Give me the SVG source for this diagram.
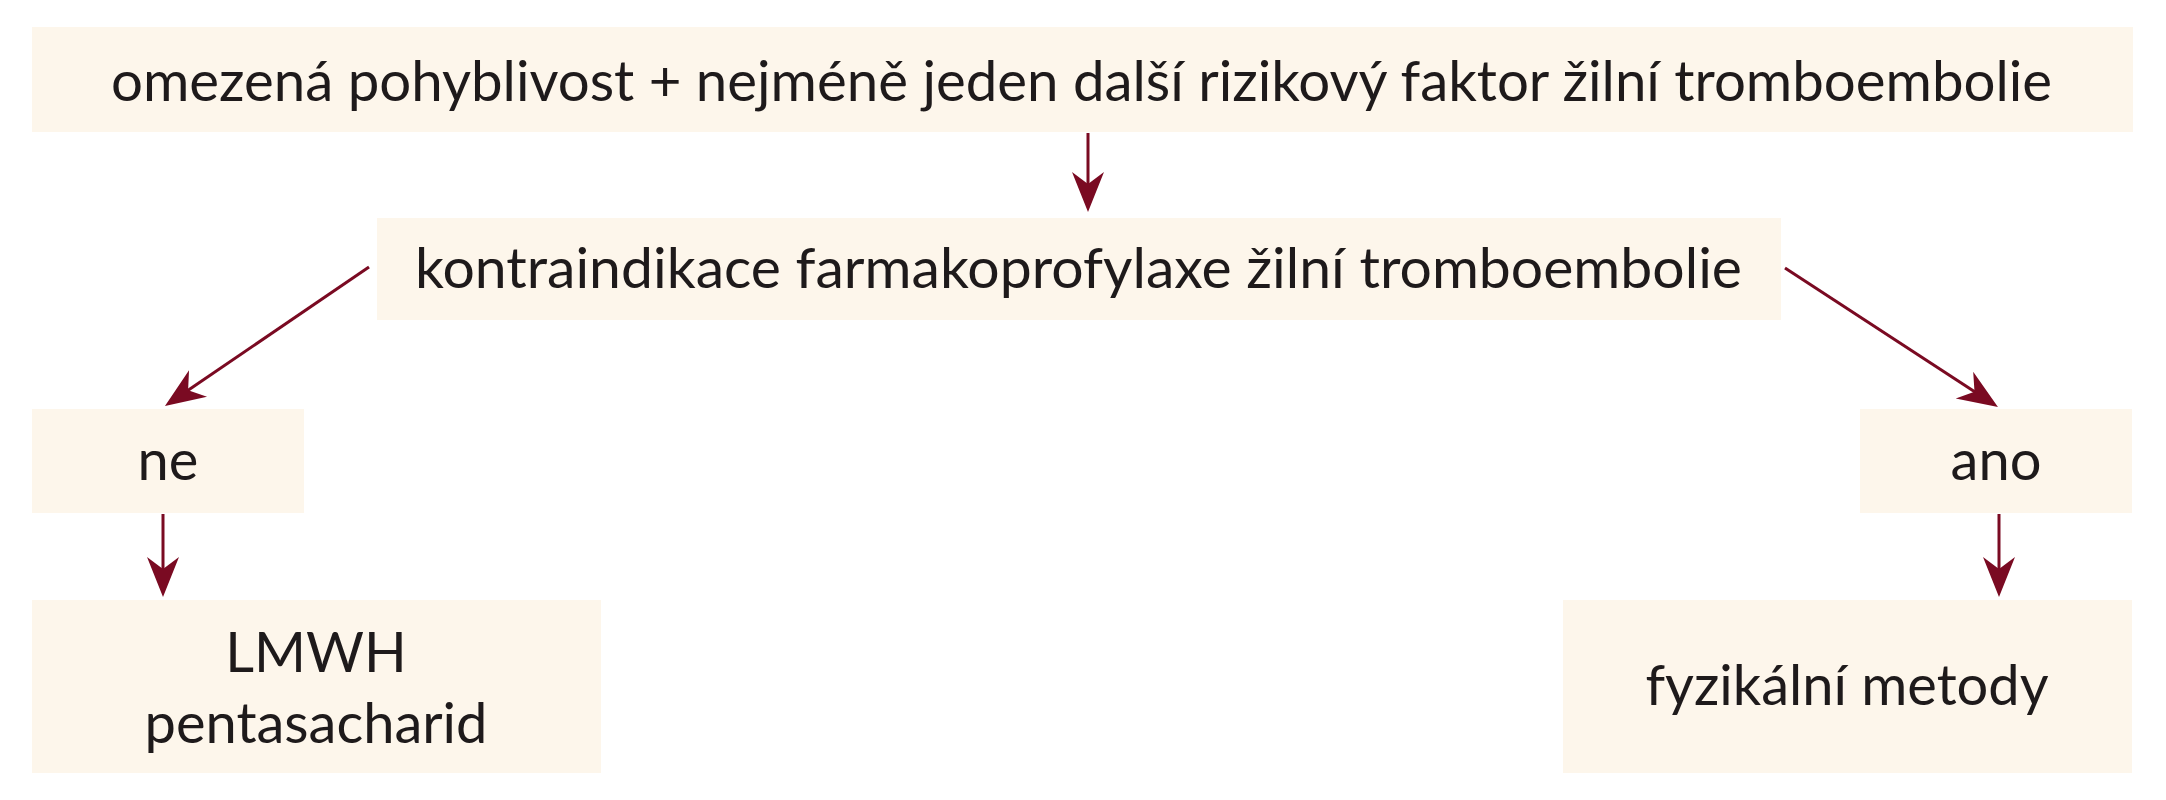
<svg xmlns="http://www.w3.org/2000/svg" width="2166" height="800" viewBox="0 0 2166 800">
<style>
.box{fill:#FDF6EB;}
.t{font-family:Lato,"Open Sans","Liberation Sans",sans-serif;font-size:56px;fill:#1E1A1B;}
.c{text-anchor:middle;}
.ln{stroke:#7A0A22;stroke-width:3;fill:none;marker-end:url(#ah);}
</style>
<defs>
<marker id="ah" markerUnits="userSpaceOnUse" markerWidth="60" markerHeight="40" viewBox="-30 -20 60 40" refX="0" refY="0" orient="auto">
<path d="M20,0 L-20,-16 L-8,0 L-20,16 Z" fill="#7A0A22"/>
</marker>
</defs>
<rect width="2166" height="800" fill="#FFFFFF"/>
<g id="n-top">
<rect class="box" x="32" y="27" width="2101" height="105"/>
<text class="t" x="111" y="101" textLength="1941" lengthAdjust="spacingAndGlyphs">omezená pohyblivost + nejméně jeden další rizikový faktor žilní tromboembolie</text>
</g>
<g id="n-kontra">
<rect class="box" x="377" y="218" width="1404" height="102"/>
<text class="t" x="415" y="288" textLength="1327" lengthAdjust="spacingAndGlyphs">kontraindikace farmakoprofylaxe žilní tromboembolie</text>
</g>
<g id="n-ne">
<rect class="box" x="32" y="409" width="272" height="104"/>
<text class="t c" x="168" y="480">ne</text>
</g>
<g id="n-ano">
<rect class="box" x="1860" y="409" width="272" height="104"/>
<text class="t c" x="1996" y="480">ano</text>
</g>
<g id="n-lmwh">
<rect class="box" x="32" y="600" width="569" height="173"/>
<text class="t c" x="316" y="672">LMWH</text>
<text class="t c" x="316" y="743">pentasacharid</text>
</g>
<g id="n-fyz">
<rect class="box" x="1563" y="600" width="569" height="173"/>
<text class="t c" x="1847" y="705">fyzikální metody</text>
</g>
<g id="connectors">
<line class="ln" x1="1088" y1="133" x2="1088" y2="192"/>
<line class="ln" x1="369" y1="267" x2="181.5" y2="394.7"/>
<line class="ln" x1="1785" y1="268" x2="1981.2" y2="396.1"/>
<line class="ln" x1="163" y1="514" x2="163" y2="577"/>
<line class="ln" x1="1999" y1="514" x2="1999" y2="577"/>
</g>
</svg>
